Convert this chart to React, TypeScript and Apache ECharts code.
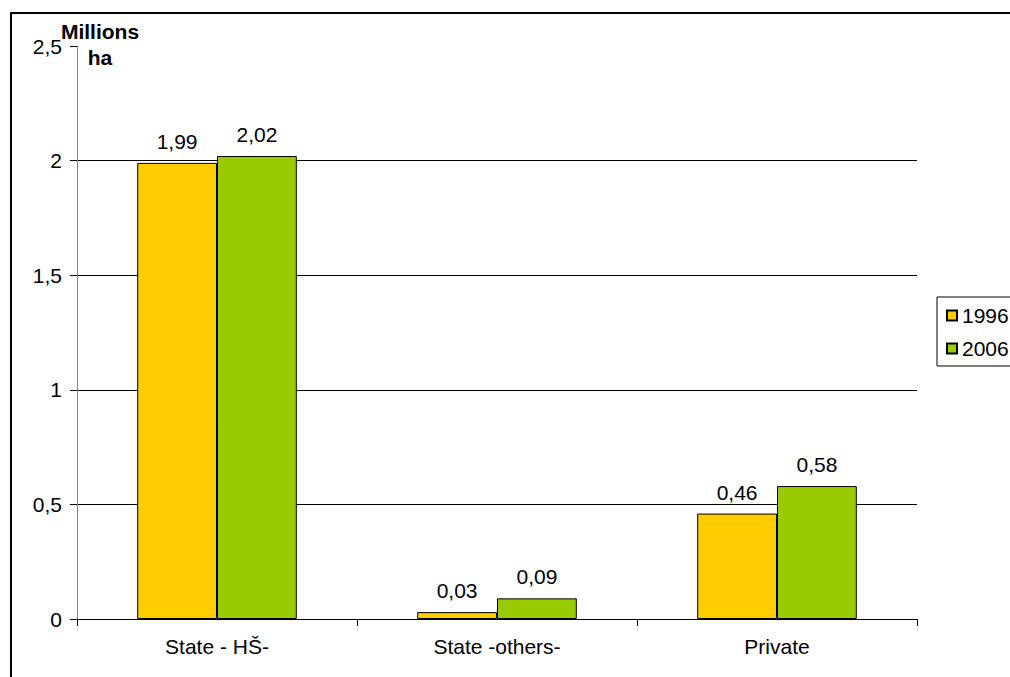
import React, { useEffect, useRef } from "react";
import * as echarts from "echarts";

// Forest land ownership, millions of hectares
const categories = ["State - HŠ-", "State -others-", "Private"];
const values1996 = [1.99, 0.03, 0.46];
const values2006 = [2.02, 0.09, 0.58];
const seriesNames = ["1996", "2006"];
const yTicks = { min: 0, max: 2.5, interval: 0.5 };

const FONT = "'Liberation Sans', Arial, sans-serif";
const FS = 21;
const fmt = (v: number) => String(v).replace(".", ",");

export default function App() {
  const ref = useRef<HTMLDivElement>(null);

  useEffect(() => {
    document.body.style.margin = "0";
    const chart = echarts.init(ref.current!, null, { renderer: "svg" });

    const barLabel = {
      show: true,
      position: "top" as const,
      distance: 11,
      color: "#000",
      fontSize: FS,
      fontFamily: FONT,
      formatter: (p: any) => fmt(p.value),
    };

    chart.setOption({
      animation: false,
      backgroundColor: "#fff",
      textStyle: { fontFamily: FONT },
      grid: { left: 77, right: 93, top: 46, bottom: 58, containLabel: false },
      legend: {
        orient: "vertical",
        left: 937,
        top: 297,
        data: seriesNames,
        icon: "rect",
        itemWidth: 10,
        itemHeight: 10,
        itemGap: 12,
        borderColor: "#000",
        borderWidth: 1,
        padding: [8, 60, 7, 9],
        textStyle: { fontSize: FS, color: "#000", fontFamily: FONT },
      },
      xAxis: {
        type: "category",
        data: categories,
        axisLine: { lineStyle: { color: "#000", width: 1 } },
        axisTick: { show: true, length: 7, alignWithLabel: false, lineStyle: { color: "#000" } },
        axisLabel: { fontSize: FS, color: "#000", margin: 17, fontFamily: FONT },
      },
      yAxis: {
        type: "value",
        min: yTicks.min,
        max: yTicks.max,
        interval: yTicks.interval,
        axisLine: { show: true, lineStyle: { color: "#808080", width: 1 } },
        axisTick: { show: true, length: 7, lineStyle: { color: "#000" } },
        axisLabel: {
          fontSize: FS,
          color: "#000",
          margin: 15,
          fontFamily: FONT,
          formatter: (v: number) => fmt(v),
        },
        splitLine: {
          show: true,
          showMinLine: false,
          showMaxLine: false,
          lineStyle: { color: "#000", width: 1 },
        },
      },
      series: [
        {
          name: seriesNames[0],
          type: "bar",
          data: values1996,
          barGap: "0%",
          barCategoryGap: "43%",
          itemStyle: { color: "#FFCC00", borderColor: "#000", borderWidth: 1 },
          label: barLabel,
        },
        {
          name: seriesNames[1],
          type: "bar",
          data: values2006,
          barGap: "0%",
          barCategoryGap: "43%",
          itemStyle: { color: "#99CC00", borderColor: "#000", borderWidth: 1 },
          label: barLabel,
        },
      ],
      graphic: [
        {
          type: "rect",
          shape: { x: 11, y: 13, width: 1020, height: 700 },
          style: { fill: "none", stroke: "#000", lineWidth: 2 },
          silent: true,
        },
        {
          type: "text",
          x: 100,
          y: 44,
          style: {
            text: "Millions\nha",
            fontSize: FS,
            fontWeight: "bold",
            fontFamily: FONT,
            fill: "#000",
            align: "center",
            verticalAlign: "middle",
            lineHeight: 26,
          },
        },
      ],
    });

    return () => chart.dispose();
  }, []);

  return <div ref={ref} style={{ width: 1010, height: 677 }} />;
}
